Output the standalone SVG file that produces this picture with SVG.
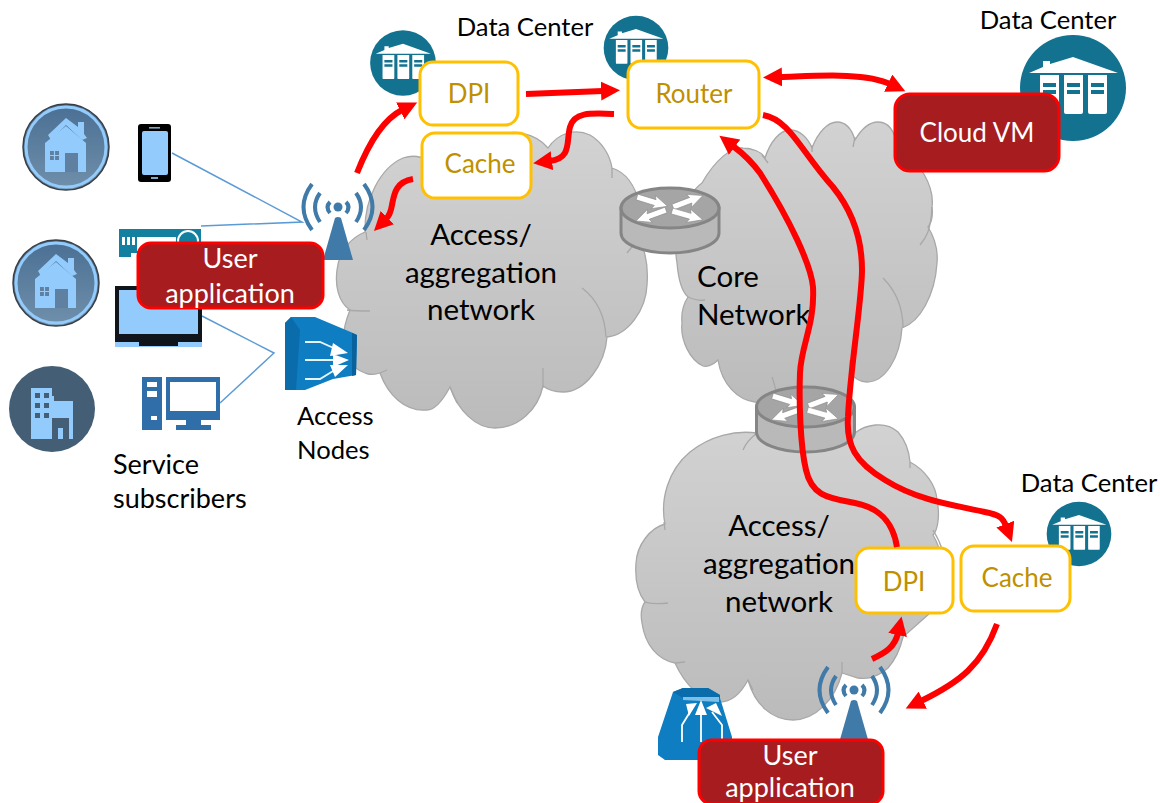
<svg xmlns="http://www.w3.org/2000/svg" width="1160" height="803" viewBox="0 0 1160 803">
<style>
text{font-family:"Lato","Open Sans","Liberation Sans",sans-serif;font-size:25.6px;fill:#000}
.m{text-anchor:middle}
.s{font-size:27px}
.y{fill:#bf9000;font-size:26px}
.w{fill:#fff;font-size:27px}
.b{font-size:29.5px}
.cloud{fill:url(#cg);stroke:#a8a8a8;stroke-width:1.3}
.crease{fill:none;stroke:#a8a8a8;stroke-width:1.3}
.box{fill:#fff;stroke:#ffc000;stroke-width:3}
.app{fill:#a61c1f;stroke:#f00;stroke-width:3}
.lnk{fill:none;stroke:#5b9bd5;stroke-width:1.5}
.red{fill:none;stroke:#f00;stroke-width:6;marker-end:url(#ah)}
.hc{fill:#93ccfc}
</style>
<defs>
<linearGradient id="cg" x1="0" y1="0" x2="0" y2="1"><stop offset="0" stop-color="#d2d2d2"/><stop offset="1" stop-color="#bbb"/></linearGradient>
<linearGradient id="hg" x1="0" y1="0" x2="0" y2="1"><stop offset="0" stop-color="#4a6f93"/><stop offset="1" stop-color="#7090ab"/></linearGradient>
<marker id="ah" markerUnits="userSpaceOnUse" markerWidth="20" markerHeight="19" viewBox="0 0 20 19" refX="2" refY="9.5" orient="auto-start-reverse"><path d="M0 0L19 9.5L0 19Z" fill="#f00"/></marker>
<polygon id="ra" points="0,-3 19,-3 17,-7 32,0 17,7 19,3 0,3" fill="#fff" stroke="#8a8a8a" stroke-width=".6"/>
<g id="router">
<path d="M-49 0V25A49 20 0 0 0 49 25V0Z" fill="#b9b9b9" stroke="#858585" stroke-width="3"/>
<ellipse cx="0" cy="0" rx="49" ry="20" fill="#a5a5a5" stroke="#858585" stroke-width="3"/>
<use href="#ra" transform="translate(-33,-11) rotate(17)"/>
<use href="#ra" transform="translate(3,-1) rotate(-21)"/>
<use href="#ra" transform="translate(-4,2) rotate(160)"/>
<use href="#ra" transform="translate(2,3) rotate(16)"/>
</g>
<g id="house">
<circle r="43" fill="url(#hg)" stroke="#3a3f45" stroke-width="1.5"/>
<circle r="40" fill="none" stroke="#93ccfc" stroke-width="3"/>
<path class="hc" d="M-18 -12L0 -29L12 -20V-25H18V-13L21 -9L16 -7L0 -22L-15 -7Z"/>
<path class="hc" d="M-21 -4L0 -21L20 -4V25H-21Z"/>
<rect x="-1" y="6" width="13" height="19" fill="#5f80a0"/>
<path d="M-16 4h9v9h-9Z" fill="#5f80a0"/><path d="M-11.5 4v9M-16 8.5h9" stroke="#93ccfc" stroke-width="1.2"/>
</g>
<g id="ant" fill="none" stroke="#3f7aa8" stroke-width="4">
<path d="M-26 -23Q-43 0 -26 23M26 -23Q43 0 26 23"/>
<path d="M-18 -14Q-28 0 -18 15M18 -14Q28 0 18 15"/>
<path d="M-8 -5Q-13 0 -8 6M8 -5Q13 0 8 6"/>
<circle r="4.5" fill="#3f7aa8" stroke="none"/>
<path d="M-3 11Q0 9 3 11L15 53H-15Z" fill="#3f7aa8" stroke="none"/>
</g>
<g id="dc">
<circle r="53" fill="#12728f"/>
<path d="M-44 -15L-30 -21V-27H-23V-24L0 -31L45 -15Z" fill="#fff"/>
<path d="M-33 -13H-14V24Q-14 26 -16 26H-31Q-33 26 -33 24ZM-9 -13H10V24Q10 26 8 26H-7Q-9 26 -9 24ZM15 -13H34V24Q34 26 32 26H17Q15 26 15 24Z" fill="#fff"/>
<path d="M-30 -5h13v4h-13ZM-30 2h13v4h-13ZM-6 -5h13v4h-13ZM-6 2h13v4h-13ZM18 -5h13v4h-13ZM18 2h13v4h-13Z" fill="#12728f"/>
</g>
</defs>

<g id="cloud-core">
<path class="cloud" d="M677 263C672 235 685 195 702 183C715 160 732 146 743 148C752 148 762 152 765 158C770 142 780 130 790 130C800 130 808 138 812 148C818 132 828 122 837 122C847 122 852 130 855 140C862 128 870 122 878 122C886 122 892 128 895 137C920 165 935 185 932 207C933 215 932 222 928 227C936 240 938 252 937 263C935 295 920 322 902 328C900 358 885 382 867 382C860 382 854 378 850 372C850 385 848 395 846 404L755 402C738 400 722 385 718 360C712 366 706 367 703 366C690 360 680 340 682 323C681 312 684 303 688 297C680 290 678 275 677 263Z"/>
<path class="crease" d="M688 297C695 300 700 301 705 300M883 278C895 290 903 305 903 328M920 245C926 238 931 230 932 207M850 360V373M772 377C775 385 776 392 778 400M768 163L762 155M812 145V152M855 137L853 147"/>
</g>
<g id="cloud-access-1">
<path class="cloud" d="M350 310C338 302 335 285 337 270C339 252 350 238 365 232C364 200 380 168 403 158C412 155 420 156 427 160C445 140 470 132 500 135C512 130 535 132 548 148C558 133 575 128 590 135C602 142 610 155 612 168C625 172 635 185 640 205L642 245C647 258 648 272 647 285C646 310 628 335 607 337C605 365 585 392 563 392C555 392 548 390 543 386C538 410 518 428 495 428C475 428 458 410 450 387C443 400 435 410 427 410C405 412 388 395 380 373C372 376 368 374 365 373C350 368 340 350 343 337C344 328 346 320 350 310Z"/>
<path class="crease" d="M347 310C355 311 362 311 370 311M366 232L367 240M582 288C598 300 605 318 606 337M543 368V388M450 387L457 403M380 373L387 370M612 168V178M627 253L635 243"/>
</g>
<g id="cloud-access-2">
<path class="cloud" d="M665 524C660 500 668 470 690 452C710 436 735 430 757 433L855 433C865 425 885 420 898 432C905 440 909 450 910 462C925 470 936 485 937 500C940 515 938 530 933 535C942 550 945 570 940 590C938 600 935 608 930 613L903 637C900 650 895 660 888 668C880 675 870 680 858 678L842 673C835 700 815 720 793 720C772 720 755 705 748 680C740 695 730 702 720 702C702 702 685 685 675 663C658 660 645 645 642 623C640 612 642 606 645 602C637 592 635 577 636 563C637 545 650 528 665 524Z"/>
<path class="crease" d="M665 530L664 522M645 602C652 604 660 604 668 603M675 663L685 662M748 680L753 690M842 662V673M910 462V468M757 433C748 440 745 445 743 450M933 530C938 538 941 545 943 552"/>
</g>
<use id="router-1" href="#router" x="670" y="208"/>
<use id="router-2" href="#router" x="805.5" y="407"/>

<g id="links">
<path class="lnk" d="M172 153L302 222L201 226"/>
<path class="lnk" d="M202 316L274 353L220 403"/>
</g>

<g id="home-1"><use href="#house" x="66" y="147"/></g>
<g id="home-2"><use href="#house" x="56" y="283"/></g>
<g id="office">
<circle cx="52" cy="409" r="43" fill="#445f75"/>
<path class="hc" d="M31 388H52V396H54V401H73V439H31Z"/>
<path d="M35 393h5v5h-5ZM44 393h5v5h-5ZM35 403h5v5h-5ZM44 403h5v5h-5ZM35 413h5v5h-5ZM44 413h5v5h-5ZM52 439V418H69V439H63V428H58V439Z" fill="#445f75"/>
</g>
<g id="phone">
<rect x="138" y="124" width="33" height="58" rx="3" fill="#000"/>
<rect x="142" y="131" width="26" height="44" rx="2" class="hc"/>
<rect x="149" y="127" width="11" height="1.6" fill="#7fa7c9"/><rect x="151" y="177" width="7" height="2" fill="#7fa7c9"/>
</g>
<g id="settop">
<rect x="119" y="229" width="82" height="24" fill="#13809f"/>
<rect x="119" y="253" width="12" height="4" fill="#13809f"/>
<path d="M122 237h3v8h-3ZM127 237h3v8h-3ZM132 237h3v8h-3ZM137 237h39v14h-39Z" fill="#fff"/>
<circle cx="188" cy="241" r="10" fill="#13809f" stroke="#fff" stroke-width="2"/>
</g>
<g id="tv">
<rect x="115" y="338" width="87" height="9" class="hc"/>
<rect x="115" y="286" width="87" height="56" fill="#10151c"/>
<rect x="119" y="290" width="79" height="44" class="hc"/>
<rect x="139" y="342" width="39" height="4" fill="#10151c"/>
</g>
<g id="pc">
<rect x="142" y="377" width="20" height="53" fill="#2f6ea8"/>
<path d="M147 382h10v5h-10ZM147 391h10v6h-10ZM151 416h6v4h-6Z" fill="#fff"/>
<path fill-rule="evenodd" d="M166 377H220V420H201V425H211V430H176V425H186V420H166ZM170 382V411H216V382Z" fill="#2f6ea8"/>
</g>
<g id="antenna-1"><use href="#ant" x="338" y="207"/></g>
<g id="antenna-2"><use href="#ant" x="854" y="690"/></g>
<g id="access-node-1">
<path d="M285 323L291 317H315L353 333L357 335L356 375L333 379L305 390H285Z" fill="#0f7dc2"/>
<path d="M352 333L357 335L356 375L352 376Z" fill="#0a629c"/>
<path d="M285 323L291 317L300 330L296 390H285Z" fill="#0a6cab"/>
<path d="M305 342H320L338 350M305 360H338M305 379L320 379L338 368" fill="none" stroke="#e6f4fc" stroke-width="1.8"/>
<path d="M333 343L348 353L330 356ZM333 354L349 360L333 367ZM330 365L348 365L335 377Z" fill="#fff"/>
</g>
<g id="access-node-2">
<path d="M673 692L683 688H708L720 695V698L732 737V760H665L658 755V737Z" fill="#0f7dc2"/>
<path d="M673 692L683 688H708L720 695V698H683Z" fill="#0a6cab"/>
<path d="M683 697H719V702L683 700Z" fill="#7cc0e8"/>
<path d="M682 742V725L690 712M701 742V710M722 742V725L712 712" fill="none" stroke="#fff" stroke-width="1.8"/>
<path d="M686 704L697 703L689 716ZM701 700L707 715H695ZM716 703L722 716L706 708Z" fill="#fff"/>
</g>
<g id="dc-1"><use href="#dc" transform="translate(403,63) scale(.62)"/></g>
<g id="dc-2"><use href="#dc" transform="translate(636,48) scale(.61)"/></g>
<g id="dc-3"><use href="#dc" transform="translate(1073,88)"/></g>
<g id="dc-4"><use href="#dc" transform="translate(1079,534) scale(.61)"/></g>

<g id="labels">
<text x="525" y="36" class="m">Data Center</text>
<text x="1048" y="29" class="m">Data Center</text>
<text x="1089" y="492" class="m">Data Center</text>
<text x="297" y="425">Access</text><text x="297" y="459">Nodes</text>
<text x="113" y="474" class="s">Service</text><text x="113" y="508" class="s">subscribers</text>
<text x="481" y="245" class="m b">Access/</text><text x="481" y="283" class="m b">aggregation</text><text x="481" y="320" class="m b">network</text>
<text x="697" y="287" class="b">Core</text><text x="697" y="325" class="b">Network</text>
<text x="779" y="536" class="m b">Access/</text><text x="779" y="574" class="m b">aggregation</text><text x="779" y="612" class="m b">network</text>
</g>

<g id="node-dpi-1"><rect class="box" x="420" y="62" width="98" height="63" rx="13"/><text class="m y" x="469" y="103">DPI</text></g>
<g id="node-cache-1"><rect class="box" x="422" y="133" width="109" height="65" rx="13"/><text class="m y" x="480" y="173">Cache</text></g>
<g id="node-router"><rect class="box" x="628" y="61" width="131" height="67" rx="13"/><text class="m y" x="694" y="103">Router</text></g>
<g id="node-dpi-2"><rect class="box" x="856" y="548" width="97" height="65" rx="13"/><text class="m y" x="904" y="591">DPI</text></g>
<g id="node-cache-2"><rect class="box" x="961" y="546" width="109" height="65" rx="13"/><text class="m y" x="1017" y="587">Cache</text></g>
<g id="node-cloud-vm"><rect class="app" x="895" y="94" width="164" height="77" rx="15"/><text class="m w" x="977" y="142" style="font-size:26px">Cloud VM</text></g>
<g id="node-user-app-1"><rect class="app" x="138" y="243" width="185" height="65" rx="13"/><text class="m w" x="230" y="268">User</text><text class="m w" x="230" y="303">application</text></g>
<g id="node-user-app-2"><rect class="app" x="699" y="740" width="184" height="64" rx="13"/><text class="m w" x="790" y="765">User</text><text class="m w" x="790" y="797">application</text></g>

<g id="connectors">
<path class="red" d="M357 173C368 145 382 120 402 110"/>
<path class="red" d="M526 94L603 91"/>
<path class="red" d="M614 114C590 113 574 112 570 127C566 142 572 158 550 161"/>
<path class="red" d="M413 179C395 182 394 195 392 205C391 211 390 215 386 219"/>
<path class="red" style="marker-start:url(#ah)" d="M780 77C815 76 865 72 890 84"/>
<path class="red" d="M763 115C790 120 800 150 833 187C850 208 862 235 862 270C862 300 850 370 848 417C846 445 855 462 885 480C920 502 960 506 985 512C1000 515 1003 518 1006 526"/>
<path class="red" d="M897 547C893 522 880 508 855 503C830 498 812 497 806 470C800 445 799 400 800 373C801 345 815 325 813 287C811 265 790 220 760 173C752 162 745 155 733 146"/>
<path class="red" d="M872 659C885 653 895 647 898 633"/>
<path class="red" d="M997 624C982 665 960 682 921 701"/>
</g>
</svg>
